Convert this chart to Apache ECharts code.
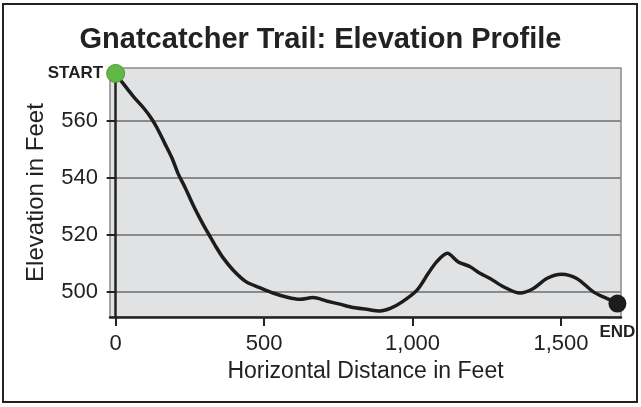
<!DOCTYPE html>
<html>
<head>
<meta charset="utf-8">
<title>Gnatcatcher Trail</title>
<script src="https://cdn.jsdelivr.net/npm/echarts@6.0.0/dist/echarts.min.js"></script>
<style>
	body { margin: 0; background: #fff; }
	#trailChart { width: 641px; height: 407px; }
</style>
</head>
<body>
<div id="trailChart"></div>
<script>
// 步道数据（水平距离 / 海拔）
var distance = [0, 25, 60, 95, 120, 140, 165, 190, 210, 235, 260, 285, 310, 335, 362, 396, 440, 485, 530, 575, 620, 665, 710, 755, 800, 845, 890, 925, 965, 1015, 1053, 1081, 1117, 1154, 1194, 1227, 1261, 1306, 1362, 1407, 1452, 1502, 1553, 1609, 1654, 1690];
var elevation = [576.5, 573, 568.4, 564.3, 560.8, 557.3, 552.1, 546.8, 541.5, 536.3, 530.6, 525.5, 520.8, 516.3, 511.9, 507.6, 503.5, 501.5, 499.6, 498.2, 497.4, 498, 496.8, 495.7, 494.5, 493.9, 493.3, 494.2, 496.5, 500.6, 506.5, 510.5, 513.5, 510.5, 508.8, 506.5, 504.7, 501.8, 499.6, 501.2, 504.7, 506.2, 504.7, 500, 497.7, 495.9];
var xTicks = [0, 500, 1000, 1500];
var yTicks = [500, 520, 540, 560];
var endLabels = ['START', 'END'];

var font = "'Liberation Sans', Arial, sans-serif";
var chart = echarts.init(document.getElementById('trailChart'));

var points = [];
for (var i = 0; i < distance.length; i++) {
	points.push([distance[i], elevation[i]]);
}
var last = distance.length - 1;

chart.setOption({
	animation : false,
	textStyle : { fontFamily : font },
	title : {
		text : 'Gnatcatcher Trail: Elevation Profile',
		left : 'center',
		top : 20,
		textStyle : {
			fontFamily : font,
			fontWeight : 'bold',
			fontSize : 29,
			color : '#222'
		}
	},
	// 外框
	graphic : [ {
		type : 'rect',
		shape : { x : 3, y : 4, width : 634, height : 398 },
		style : { fill : 'none', stroke : '#222', lineWidth : 2 },
		silent : true
	} ],
	grid : {
		left : 110,
		right : 20,
		top : 68,
		bottom : 90,
		show : true,
		backgroundColor : '#e1e2e4',
		borderColor : '#8a8a8a',
		borderWidth : 1.5
	},
	xAxis : {
		type : 'value',
		min : -19,
		max : 1702,
		name : 'Horizontal Distance in Feet',
		nameLocation : 'middle',
		nameGap : 42,
		nameTextStyle : { fontFamily : font, fontSize : 23, color : '#222' },
		axisLine : { lineStyle : { color : '#222', width : 2.5 } },
		axisTick : {
			customValues : xTicks,
			length : 9,
			lineStyle : { color : '#222', width : 2 }
		},
		axisLabel : {
			customValues : xTicks,
			margin : 16,
			fontFamily : font,
			fontSize : 22,
			color : '#222',
			formatter : function(v) {
				return v.toLocaleString('en-US');
			}
		},
		splitLine : { show : false }
	},
	yAxis : {
		type : 'value',
		min : 491.2,
		max : 578.4,
		name : 'Elevation in Feet',
		nameLocation : 'middle',
		nameGap : 62,
		nameTextStyle : { fontFamily : font, fontSize : 24, color : '#222' },
		axisLine : { show : true, lineStyle : { color : '#222', width : 2.5 } },
		axisTick : {
			show : true,
			customValues : yTicks,
			length : 9,
			lineStyle : { color : '#222', width : 2 }
		},
		axisLabel : {
			customValues : yTicks,
			margin : 12,
			fontFamily : font,
			fontSize : 22,
			color : '#222'
		},
		splitLine : {
			show : true,
			lineStyle : { color : '#8a8a8a', width : 1.8 }
		}
	},
	series : [ {
		type : 'line',
		data : points,
		smooth : 0.3,
		showSymbol : false,
		clip : false,
		lineStyle : { color : '#1c1c1c', width : 3.5 },
		z : 3
	}, {
		// 起点和终点
		type : 'scatter',
		clip : false,
		z : 4,
		data : [ {
			value : points[0],
			name : endLabels[0],
			symbolSize : 18,
			itemStyle : { color : '#62b845', borderColor : '#4a9a33', borderWidth : 1, opacity : 1 },
			label : { show : true, position : 'left', distance : 3 }
		}, {
			value : points[last],
			name : endLabels[1],
			symbolSize : 18,
			itemStyle : { color : '#1c1c1c', opacity : 1 },
			label : { show : true, position : 'bottom', distance : 11 }
		} ],
		label : {
			formatter : '{b}',
			fontFamily : font,
			fontWeight : 'bold',
			fontSize : 17,
			color : '#222'
		}
	} ]
});
</script>
</body>
</html>
